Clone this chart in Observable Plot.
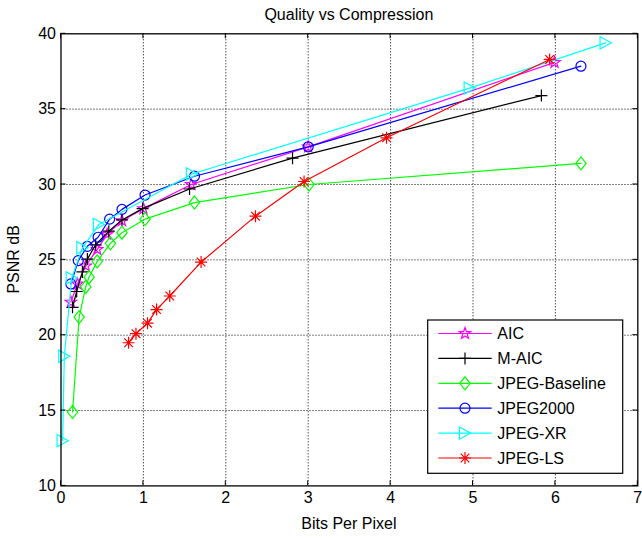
<!DOCTYPE html>
<html><head><meta charset="utf-8">
<script src="https://cdn.jsdelivr.net/npm/d3@7"></script>
<script src="https://cdn.jsdelivr.net/npm/@observablehq/plot@0.6"></script>
<style>body{margin:0;background:#fff} #chart{width:642px;height:538px}</style>
</head><body><div id="chart"></div>
<script>
const titleText = "Quality vs Compression";
const xLabel = "Bits Per Pixel";
const yLabel = "PSNR dB";
const xTicks = [0, 1, 2, 3, 4, 5, 6, 7];
const yTicks = [10, 15, 20, 25, 30, 35, 40];
const seriesNames = ["AIC", "M-AIC", "JPEG-Baseline", "JPEG2000", "JPEG-XR", "JPEG-LS"];
const seriesColors = ["#ff00ff", "#000000", "#00ff00", "#0000ff", "#00ffff", "#ff0000"];

const aicBpp  = [0.12, 0.20, 0.30, 0.44, 0.56, 0.74, 1.00, 1.58, 3.00, 5.99];
const aicPsnr = [22.2, 23.4, 24.6, 25.7, 26.7, 27.6, 28.4, 30.0, 32.5, 38.1];
const maicBpp  = [0.14, 0.19, 0.26, 0.32, 0.42, 0.58, 0.74, 0.99, 1.56, 2.81, 5.83];
const maicPsnr = [21.85, 22.9, 24.2, 25.05, 26.0, 26.9, 27.65, 28.4, 29.7, 31.75, 35.9];
const jpegBpp  = [0.14, 0.22, 0.30, 0.34, 0.44, 0.60, 0.74, 1.02, 1.62, 3.01, 6.31];
const jpegPsnr = [14.9, 21.2, 23.2, 23.85, 24.9, 26.1, 26.8, 27.7, 28.8, 30.0, 31.4];
const j2kBpp  = [0.12, 0.21, 0.32, 0.45, 0.59, 0.74, 1.02, 1.62, 3.00, 6.31];
const j2kPsnr = [23.4, 24.95, 25.9, 26.5, 27.7, 28.35, 29.3, 30.55, 32.5, 37.85];
const xrBpp  = [0.02, 0.04, 0.13, 0.26, 0.46, 1.59, 4.96, 6.61];
const xrPsnr = [13.0, 18.6, 23.8, 25.8, 27.35, 30.7, 36.4, 39.4];
const lsBpp  = [0.82, 0.91, 1.05, 1.16, 1.32, 1.70, 2.36, 2.95, 3.95, 5.93];
const lsPsnr = [19.5, 20.1, 20.8, 21.7, 22.6, 24.85, 27.9, 30.2, 33.1, 38.3];

// custom MATLAB-like marker symbols
const rOf = s => Math.sqrt(s / Math.PI);
const symPentagram = {draw(c, s) { const r = rOf(s); for (let i = 0; i < 10; i++) { const a = -Math.PI / 2 + i * Math.PI / 5; const rr = i % 2 ? r * 0.4 : r; const x = rr * Math.cos(a), y = rr * Math.sin(a); if (i) c.lineTo(x, y); else c.moveTo(x, y); } c.closePath(); }};
const symPlus = {draw(c, s) { const r = rOf(s); c.moveTo(-r, 0); c.lineTo(r, 0); c.moveTo(0, -r); c.lineTo(0, r); }};
const symDiamond = {draw(c, s) { const r = rOf(s); c.moveTo(0, -r); c.lineTo(r * 0.8, 0); c.lineTo(0, r); c.lineTo(-r * 0.8, 0); c.closePath(); }};
const symCircle = {draw(c, s) { const r = rOf(s); c.moveTo(r, 0); c.arc(0, 0, r, 0, 2 * Math.PI); c.closePath(); }};
const symTriRight = {draw(c, s) { const r = rOf(s); c.moveTo(r, 0); c.lineTo(-r, -r * 1.1); c.lineTo(-r, r * 1.1); c.closePath(); }};
const symAsterisk = {draw(c, s) { const r = rOf(s); const d = r * 0.72; c.moveTo(-r, 0); c.lineTo(r, 0); c.moveTo(0, -r); c.lineTo(0, r); c.moveTo(-d, -d); c.lineTo(d, d); c.moveTo(-d, d); c.lineTo(d, -d); }};

const series = [
  {bpp: aicBpp, psnr: aicPsnr, symbol: symPentagram, r: 6},
  {bpp: maicBpp, psnr: maicPsnr, symbol: symPlus, r: 6},
  {bpp: jpegBpp, psnr: jpegPsnr, symbol: symDiamond, r: 6.5},
  {bpp: j2kBpp, psnr: j2kPsnr, symbol: symCircle, r: 5},
  {bpp: xrBpp, psnr: xrPsnr, symbol: symTriRight, r: 5.6},
  {bpp: lsBpp, psnr: lsPsnr, symbol: symAsterisk, r: 6}
].map((s, i) => ({...s, name: seriesNames[i], color: seriesColors[i],
  rows: s.bpp.map((b, j) => ({bpp: b, psnr: s.psnr[j], series: seriesNames[i]}))}));

const W = 642, H = 538;
const mL = 60.5, mR = 4.7, mT = 33.3, mB = 52.6;
const font = "'Liberation Sans', Arial, Helvetica, sans-serif";

const marks = [
  Plot.ruleX(xTicks.slice(1, -1), {stroke: "#000", strokeWidth: 1, strokeDasharray: "1,2"}),
  Plot.ruleY(yTicks.slice(1, -1), {stroke: "#000", strokeWidth: 1, strokeDasharray: "1,2"})
];
for (const s of series) {
  marks.push(Plot.line(s.rows, {x: "bpp", y: "psnr", stroke: s.color, strokeWidth: 1.2}));
  marks.push(Plot.dot(s.rows, {x: "bpp", y: "psnr", stroke: s.color, fill: "none", symbol: s.symbol, r: s.r, strokeWidth: 1.2}));
}
marks.push(Plot.frame({stroke: "#000", strokeWidth: 1.3}));

const plot = Plot.plot({
  width: W, height: H,
  marginLeft: mL, marginRight: mR, marginTop: mT, marginBottom: mB,
  style: {fontFamily: font, fontSize: "16px", background: "white", color: "black"},
  x: {domain: [0, 7], ticks: xTicks, tickSize: 0, tickPadding: 6, label: null, tickFormat: d => String(d)},
  y: {domain: [10, 40], ticks: yTicks, tickSize: 0, tickPadding: 5, label: null, tickFormat: d => String(d)},
  marks
});
document.getElementById("chart").appendChild(plot);

const svg = d3.select(plot);
const sx = plot.scale("x"), sy = plot.scale("y");
const x0 = sx.apply(0), x1 = sx.apply(7), y0 = sy.apply(10), y1 = sy.apply(40);
const tg = svg.append("g").attr("stroke", "#000").attr("stroke-width", 1);
for (const t of xTicks) {
  const px = sx.apply(t);
  tg.append("line").attr("x1", px).attr("x2", px).attr("y1", y0).attr("y2", y0 - 5);
  tg.append("line").attr("x1", px).attr("x2", px).attr("y1", y1).attr("y2", y1 + 5);
}
for (const t of yTicks) {
  const py = sy.apply(t);
  tg.append("line").attr("y1", py).attr("y2", py).attr("x1", x0).attr("x2", x0 + 5);
  tg.append("line").attr("y1", py).attr("y2", py).attr("x1", x1).attr("x2", x1 - 5);
}

// title & axis labels
svg.append("text").attr("x", (x0 + x1) / 2).attr("y", 20).attr("text-anchor", "middle")
  .attr("font-size", 16).attr("fill", "#000").text(titleText);
svg.append("text").attr("x", (x0 + x1) / 2).attr("y", 529).attr("text-anchor", "middle")
  .attr("font-size", 16).attr("fill", "#000").text(xLabel);
svg.append("text").attr("transform", `translate(19,${(y0 + y1) / 2}) rotate(-90)`).attr("text-anchor", "middle")
  .attr("font-size", 16).attr("fill", "#000").text(yLabel);

// legend
const lg = svg.append("g");
const lx = 427.7, ly = 320, lw = 195, lh = 153.3;
lg.append("rect").attr("x", lx).attr("y", ly).attr("width", lw).attr("height", lh)
  .attr("fill", "white").attr("stroke", "#000").attr("stroke-width", 1.2);
series.forEach((s, i) => {
  const cy = 333.5 + i * 24.9;
  lg.append("line").attr("x1", 438.3).attr("x2", 491.7).attr("y1", cy).attr("y2", cy)
    .attr("stroke", s.color).attr("stroke-width", 1.2);
  lg.append("path").attr("transform", `translate(465,${cy})`)
    .attr("d", d3.symbol(s.symbol, s.r * s.r * Math.PI)())
    .attr("fill", "none").attr("stroke", s.color).attr("stroke-width", 1.2);
  lg.append("text").attr("x", 497.3).attr("y", cy).attr("dy", "0.36em").attr("text-anchor", "start")
    .attr("font-size", 16).attr("fill", "#000").text(s.name);
});
</script>
</body></html>
